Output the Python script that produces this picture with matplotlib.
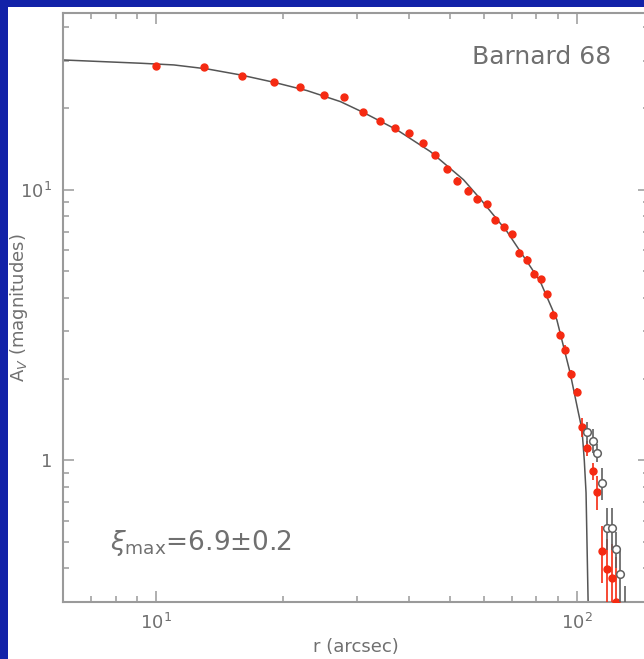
import matplotlib
matplotlib.use('Agg')
import matplotlib.pyplot as plt
from matplotlib.patches import Rectangle
from matplotlib.ticker import FixedLocator, LogLocator, NullFormatter

# Barnard 68 extinction profile

# red filled points: radius (arcsec), A_V (mag), error
r_red = [10, 13, 16, 19, 22, 25, 28, 31, 34, 37, 40, 43, 46, 49, 52, 55, 58, 61, 64,
         67, 70, 73, 76, 79, 82, 85, 88, 91, 94, 97, 100, 103, 106, 109, 112, 115,
         118, 121, 124]
av_red = [28.75, 28.36, 26.35, 25.10, 23.93, 22.41, 21.98, 19.45, 18.02, 16.89, 16.19,
          14.95, 13.46, 11.92, 10.82, 9.92, 9.26, 8.86, 7.75, 7.30, 6.86, 5.84, 5.52,
          4.89, 4.68, 4.12, 3.46, 2.92, 2.57, 2.08, 1.79, 1.33, 1.11, 0.913, 0.766,
          0.463, 0.396, 0.367, 0.300]
err_red = [0.3, 0.3, 0.3, 0.3, 0.3, 0.3, 0.3, 0.3, 0.3, 0.3, 0.3,
           0.3, 0.3, 0.3, 0.3, 0.3, 0.25, 0.25, 0.22, 0.2, 0.2, 0.18, 0.16,
           0.15, 0.14, 0.12, 0.11, 0.1, 0.09, 0.08, 0.06, 0.11, 0.07, 0.066, 0.11,
           0.11, 0.115, 0.123, 0.14]

# open circles (outer region)
r_open = [106, 109, 112, 115, 118, 121, 124, 127, 130]
av_open = [1.27, 1.185, 1.066, 0.824, 0.565, 0.565, 0.472, 0.381, 0.25]
err_open = [0.12, 0.12, 0.08, 0.11, 0.10, 0.10, 0.07, 0.09, 0.093]

# Bonnor-Ebert fit curve
r_fit = [6.0, 9.18, 11.01, 13.22, 15.86, 19.02, 22.84, 27.40, 31.12, 37.36, 44.83,
         53.79, 58.93, 68.20, 81.83, 89.65, 96.40, 100.9, 102.9, 104.2, 105.2, 106.4, 106.6]
av_fit = [30.18, 29.35, 28.93, 27.96, 26.57, 24.97, 23.25, 21.18, 19.29, 16.65, 13.85,
          10.89, 9.26, 7.02, 4.59, 3.31, 2.11, 1.50, 1.30, 1.0, 0.76, 0.30, 0.2]

blue = '#1222a8'
gray = '#9a9a9a'
txt = '#707070'
red = '#f52a12'

fig = plt.figure(figsize=(6.44, 6.59), dpi=100)
fig.patch.set_facecolor(blue)
fig.patches.append(Rectangle((8 / 644, 0), 1, 1 - 7 / 659, transform=fig.transFigure,
                             facecolor='white', edgecolor='none', zorder=-10))

ax = fig.add_axes([63 / 644, 1 - 602 / 659, (649 - 63) / 644, (602 - 13) / 659])
ax.set_xscale('log')
ax.set_yscale('log')

ax.plot(r_fit, av_fit, color='#555555', lw=1.1, zorder=2)
ax.errorbar(r_red, av_red, yerr=err_red, fmt='o', color=red, ms=5, mec=red,
            elinewidth=1.2, capsize=0, zorder=3)
ax.errorbar(r_open, av_open, yerr=err_open, fmt='o', color='#606060', mfc='white',
            mec='#606060', ms=5.5, mew=1.1, elinewidth=1.2, capsize=0, zorder=4)

ax.set_xlim(6.0, 148.5)
ax.set_ylim(0.30, 45)

for s in ax.spines.values():
    s.set_color(gray)
    s.set_linewidth(1.5)

ax.xaxis.set_major_locator(FixedLocator([10, 100]))
ax.set_xticklabels([r'$10^1$', r'$10^2$'])
ax.xaxis.set_minor_locator(LogLocator(base=10, subs=range(2, 10)))
ax.xaxis.set_minor_formatter(NullFormatter())
ax.yaxis.set_major_locator(FixedLocator([1, 10]))
ax.set_yticklabels(['1', r'$10^1$'])
ax.yaxis.set_minor_locator(LogLocator(base=10, subs=range(2, 10)))
ax.yaxis.set_minor_formatter(NullFormatter())

ax.tick_params(which='both', direction='in', top=True, right=True, color=gray,
               width=1.1, labelcolor=txt, labelsize=13)
ax.tick_params(which='major', length=8)
ax.tick_params(which='minor', length=4.5)
ax.tick_params(axis='x', which='major', pad=8)
ax.tick_params(axis='y', which='major', pad=8)

ax.set_xlabel('r (arcsec)', color=txt, fontsize=13, va='center')
ax.set_ylabel(r'A$_V$ (magnitudes)', color=txt, fontsize=13, va='center')
ax.xaxis.set_label_coords(0.5, -0.077)
ax.yaxis.set_label_coords(-0.075, 0.5)

ax.text(0.935, 0.925, 'Barnard 68', transform=ax.transAxes, ha='right', va='center',
        color=txt, fontsize=18)
ax.text(0.08, 0.10, r'$\xi_{\rm max}$=6.9$\pm$0.2', transform=ax.transAxes,
        ha='left', va='center', color=txt, fontsize=19)

fig.savefig('out.png', dpi=100, facecolor=fig.get_facecolor())
